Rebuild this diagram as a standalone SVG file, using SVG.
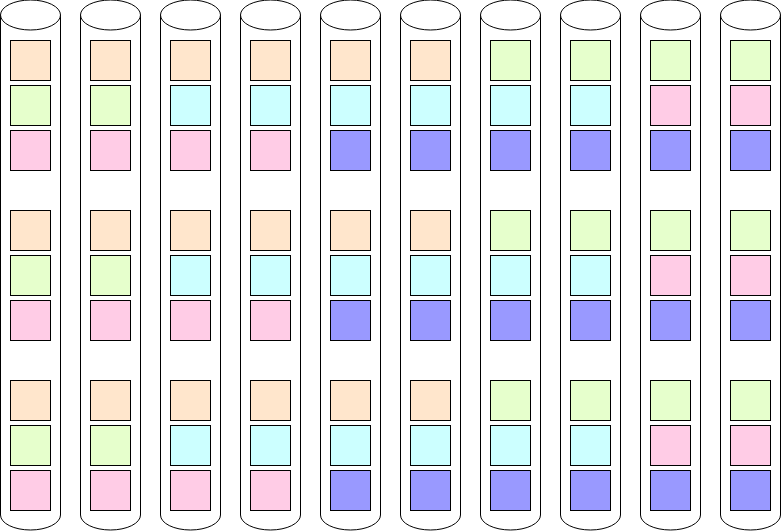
<svg xmlns="http://www.w3.org/2000/svg" width="781" height="531" viewBox="0 0 781 531">
<style>
.cyl{fill:#ffffff;stroke:#000000;stroke-width:1}
.sq{stroke:#000000;stroke-width:1}
.pe{fill:#ffe6cc}.gr{fill:#e6ffcc}.pk{fill:#ffcce6}.cy{fill:#ccffff}.bl{fill:#9999ff}
</style>
<defs>
<g id="cylShape">
<path class="cyl" d="M0.5 15 A30 15 0 0 1 60.5 15 V515 A30 15 0 0 1 0.5 515 Z"/>
<path class="cyl" d="M0.5 15 A30 15 0 0 0 60.5 15" fill="none"/>
</g>
</defs>
<rect width="781" height="531" fill="#ffffff"/>
<g id="col1"><use href="#cylShape"/>
<rect class="sq pe" x="10.5" y="40.5" width="40" height="40"/><rect class="sq gr" x="10.5" y="85.5" width="40" height="40"/><rect class="sq pk" x="10.5" y="130.5" width="40" height="40"/>
<rect class="sq pe" x="10.5" y="210.5" width="40" height="40"/><rect class="sq gr" x="10.5" y="255.5" width="40" height="40"/><rect class="sq pk" x="10.5" y="300.5" width="40" height="40"/>
<rect class="sq pe" x="10.5" y="380.5" width="40" height="40"/><rect class="sq gr" x="10.5" y="425.5" width="40" height="40"/><rect class="sq pk" x="10.5" y="470.5" width="40" height="40"/>
</g>
<g id="col2" transform="translate(80 0)"><use href="#cylShape"/>
<rect class="sq pe" x="10.5" y="40.5" width="40" height="40"/><rect class="sq gr" x="10.5" y="85.5" width="40" height="40"/><rect class="sq pk" x="10.5" y="130.5" width="40" height="40"/>
<rect class="sq pe" x="10.5" y="210.5" width="40" height="40"/><rect class="sq gr" x="10.5" y="255.5" width="40" height="40"/><rect class="sq pk" x="10.5" y="300.5" width="40" height="40"/>
<rect class="sq pe" x="10.5" y="380.5" width="40" height="40"/><rect class="sq gr" x="10.5" y="425.5" width="40" height="40"/><rect class="sq pk" x="10.5" y="470.5" width="40" height="40"/>
</g>
<g id="col3" transform="translate(160 0)"><use href="#cylShape"/>
<rect class="sq pe" x="10.5" y="40.5" width="40" height="40"/><rect class="sq cy" x="10.5" y="85.5" width="40" height="40"/><rect class="sq pk" x="10.5" y="130.5" width="40" height="40"/>
<rect class="sq pe" x="10.5" y="210.5" width="40" height="40"/><rect class="sq cy" x="10.5" y="255.5" width="40" height="40"/><rect class="sq pk" x="10.5" y="300.5" width="40" height="40"/>
<rect class="sq pe" x="10.5" y="380.5" width="40" height="40"/><rect class="sq cy" x="10.5" y="425.5" width="40" height="40"/><rect class="sq pk" x="10.5" y="470.5" width="40" height="40"/>
</g>
<g id="col4" transform="translate(240 0)"><use href="#cylShape"/>
<rect class="sq pe" x="10.5" y="40.5" width="40" height="40"/><rect class="sq cy" x="10.5" y="85.5" width="40" height="40"/><rect class="sq pk" x="10.5" y="130.5" width="40" height="40"/>
<rect class="sq pe" x="10.5" y="210.5" width="40" height="40"/><rect class="sq cy" x="10.5" y="255.5" width="40" height="40"/><rect class="sq pk" x="10.5" y="300.5" width="40" height="40"/>
<rect class="sq pe" x="10.5" y="380.5" width="40" height="40"/><rect class="sq cy" x="10.5" y="425.5" width="40" height="40"/><rect class="sq pk" x="10.5" y="470.5" width="40" height="40"/>
</g>
<g id="col5" transform="translate(320 0)"><use href="#cylShape"/>
<rect class="sq pe" x="10.5" y="40.5" width="40" height="40"/><rect class="sq cy" x="10.5" y="85.5" width="40" height="40"/><rect class="sq bl" x="10.5" y="130.5" width="40" height="40"/>
<rect class="sq pe" x="10.5" y="210.5" width="40" height="40"/><rect class="sq cy" x="10.5" y="255.5" width="40" height="40"/><rect class="sq bl" x="10.5" y="300.5" width="40" height="40"/>
<rect class="sq pe" x="10.5" y="380.5" width="40" height="40"/><rect class="sq cy" x="10.5" y="425.5" width="40" height="40"/><rect class="sq bl" x="10.5" y="470.5" width="40" height="40"/>
</g>
<g id="col6" transform="translate(400 0)"><use href="#cylShape"/>
<rect class="sq pe" x="10.5" y="40.5" width="40" height="40"/><rect class="sq cy" x="10.5" y="85.5" width="40" height="40"/><rect class="sq bl" x="10.5" y="130.5" width="40" height="40"/>
<rect class="sq pe" x="10.5" y="210.5" width="40" height="40"/><rect class="sq cy" x="10.5" y="255.5" width="40" height="40"/><rect class="sq bl" x="10.5" y="300.5" width="40" height="40"/>
<rect class="sq pe" x="10.5" y="380.5" width="40" height="40"/><rect class="sq cy" x="10.5" y="425.5" width="40" height="40"/><rect class="sq bl" x="10.5" y="470.5" width="40" height="40"/>
</g>
<g id="col7" transform="translate(480 0)"><use href="#cylShape"/>
<rect class="sq gr" x="10.5" y="40.5" width="40" height="40"/><rect class="sq cy" x="10.5" y="85.5" width="40" height="40"/><rect class="sq bl" x="10.5" y="130.5" width="40" height="40"/>
<rect class="sq gr" x="10.5" y="210.5" width="40" height="40"/><rect class="sq cy" x="10.5" y="255.5" width="40" height="40"/><rect class="sq bl" x="10.5" y="300.5" width="40" height="40"/>
<rect class="sq gr" x="10.5" y="380.5" width="40" height="40"/><rect class="sq cy" x="10.5" y="425.5" width="40" height="40"/><rect class="sq bl" x="10.5" y="470.5" width="40" height="40"/>
</g>
<g id="col8" transform="translate(560 0)"><use href="#cylShape"/>
<rect class="sq gr" x="10.5" y="40.5" width="40" height="40"/><rect class="sq cy" x="10.5" y="85.5" width="40" height="40"/><rect class="sq bl" x="10.5" y="130.5" width="40" height="40"/>
<rect class="sq gr" x="10.5" y="210.5" width="40" height="40"/><rect class="sq cy" x="10.5" y="255.5" width="40" height="40"/><rect class="sq bl" x="10.5" y="300.5" width="40" height="40"/>
<rect class="sq gr" x="10.5" y="380.5" width="40" height="40"/><rect class="sq cy" x="10.5" y="425.5" width="40" height="40"/><rect class="sq bl" x="10.5" y="470.5" width="40" height="40"/>
</g>
<g id="col9" transform="translate(640 0)"><use href="#cylShape"/>
<rect class="sq gr" x="10.5" y="40.5" width="40" height="40"/><rect class="sq pk" x="10.5" y="85.5" width="40" height="40"/><rect class="sq bl" x="10.5" y="130.5" width="40" height="40"/>
<rect class="sq gr" x="10.5" y="210.5" width="40" height="40"/><rect class="sq pk" x="10.5" y="255.5" width="40" height="40"/><rect class="sq bl" x="10.5" y="300.5" width="40" height="40"/>
<rect class="sq gr" x="10.5" y="380.5" width="40" height="40"/><rect class="sq pk" x="10.5" y="425.5" width="40" height="40"/><rect class="sq bl" x="10.5" y="470.5" width="40" height="40"/>
</g>
<g id="col10" transform="translate(720 0)"><use href="#cylShape"/>
<rect class="sq gr" x="10.5" y="40.5" width="40" height="40"/><rect class="sq pk" x="10.5" y="85.5" width="40" height="40"/><rect class="sq bl" x="10.5" y="130.5" width="40" height="40"/>
<rect class="sq gr" x="10.5" y="210.5" width="40" height="40"/><rect class="sq pk" x="10.5" y="255.5" width="40" height="40"/><rect class="sq bl" x="10.5" y="300.5" width="40" height="40"/>
<rect class="sq gr" x="10.5" y="380.5" width="40" height="40"/><rect class="sq pk" x="10.5" y="425.5" width="40" height="40"/><rect class="sq bl" x="10.5" y="470.5" width="40" height="40"/>
</g>
<g id="connectors"/>
</svg>
